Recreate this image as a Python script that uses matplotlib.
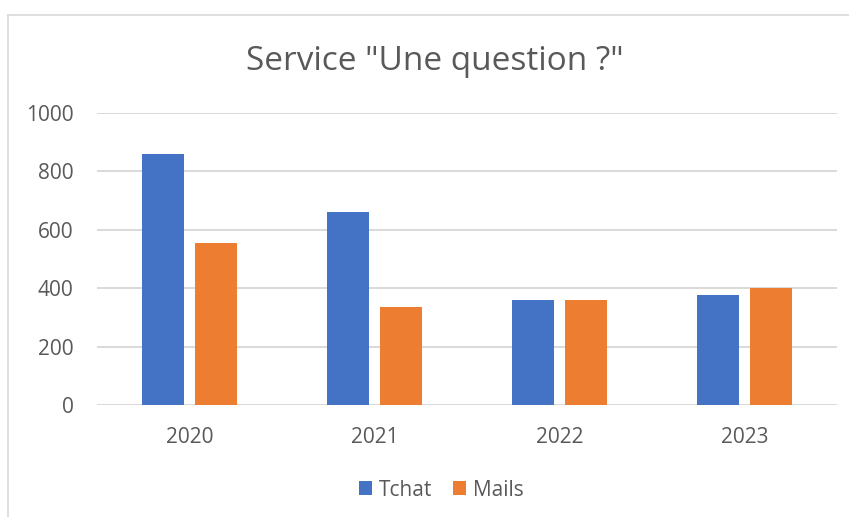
import matplotlib
matplotlib.use("Agg")
import matplotlib.pyplot as plt
from matplotlib.lines import Line2D
import numpy as np

plt.rcParams['font.family'] = ['Open Sans', 'DejaVu Sans']

years = ["2020", "2021", "2022", "2023"]
tchat = [860, 662, 358, 377]
mails = [554, 335, 359, 399]
series_names = ["Tchat", "Mails"]
colors = ["#4472C4", "#ED7D31"]
yticks = [0, 200, 400, 600, 800, 1000]

W, H = 849, 517
fig = plt.figure(figsize=(W / 100, H / 100), dpi=100)

# outer chart border (top and left)
fig.add_artist(Line2D([8 / W, 1.0], [1 - 14.5 / H, 1 - 14.5 / H], color="#D9D9D9", lw=1.2))
fig.add_artist(Line2D([8 / W, 8 / W], [0, 1 - 14.5 / H], color="#D9D9D9", lw=1.2))

left, right = 97 / W, 837 / W
bottom, top = 1 - 405 / H, 1 - 113 / H
ax = fig.add_axes([left, bottom, right - left, top - bottom])

x = np.arange(len(years))
bw = 0.227
off = 0.143
ax.bar(x - off, tchat, width=bw, color=colors[0], label=series_names[0], zorder=3)
ax.bar(x + off, mails, width=bw, color=colors[1], label=series_names[1], zorder=3)

ax.set_xlim(-0.5, len(years) - 0.5)
ax.set_ylim(0, 1000)
ax.set_yticks(yticks)
ax.set_yticklabels([str(v) for v in yticks])
ax.set_xticks(x)
ax.set_xticklabels(years)
ax.grid(axis="y", color="#D9D9D9", lw=1.4, zorder=0)
for s in ax.spines.values():
    s.set_visible(False)
ax.tick_params(axis="both", length=0, labelsize=15, labelcolor="#595959")
ax.tick_params(axis="y", pad=17)
ax.tick_params(axis="x", pad=16)

fig.text(435 / W, 1 - 61 / H, 'Service "Une question ?"', ha="center", va="center",
         fontsize=24, color="#595959")

leg = fig.legend(loc="center", bbox_to_anchor=(441 / W, 1 - 490 / H), ncol=2, frameon=False,
                 fontsize=15, handlelength=0.65, handleheight=0.65, handletextpad=0.3,
                 columnspacing=1.0, labelcolor="#595959")

fig.savefig("out.png", dpi=100)
